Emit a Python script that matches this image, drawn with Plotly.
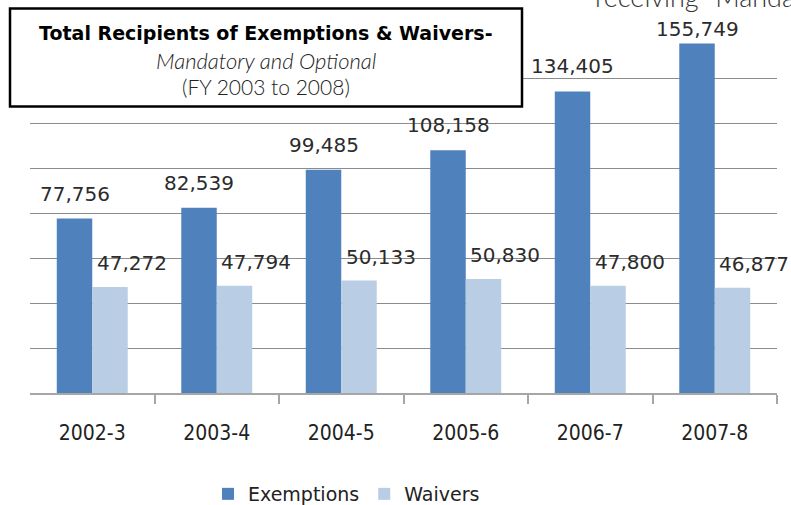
import plotly.graph_objects as go

categories = ["2002-3", "2003-4", "2004-5", "2005-6", "2006-7", "2007-8"]
exemptions = [77756, 82539, 99485, 108158, 134405, 155749]
waivers = [47272, 47794, 50133, 50830, 47800, 46877]
series_names = ["Exemptions", "Waivers"]
title_lines = ["Total Recipients of Exemptions & Waivers-", "Mandatory and Optional", "(FY 2003 to 2008)"]
corner_text = 'receiving "Mandatory'

C_EX = "#4F81BD"
C_WA = "#B9CDE5"
YMAX = 160000
W, H = 791, 505
ML, MR, MT, MB = 30, 14, 34, 112
PW, PH = W - ML - MR, H - MT - MB
UPP = YMAX / PH  # data units per pixel

BARGAP = 0.43
bw = (1 - BARGAP) / 2
xs = list(range(len(categories)))

fig = go.Figure()
fig.add_bar(x=xs, y=exemptions, name=series_names[0], marker=dict(color=C_EX, line=dict(width=0)))
fig.add_bar(x=xs, y=waivers, name=series_names[1], marker=dict(color=C_WA, line=dict(width=0)))
# invisible trace to carry the category labels axis
fig.add_scatter(x=xs, y=[0] * len(xs), xaxis="x2", mode="markers",
                marker=dict(opacity=0), showlegend=False, hoverinfo="skip")

lab_font = dict(family="DejaVu Sans", size=20, color="#2b2b2b")
ann = []
for i, (e, w) in enumerate(zip(exemptions, waivers)):
    gap_e = min(18, (YMAX - e) / UPP - 2)
    ann.append(dict(x=i - bw / 2, y=e, xref="x", yref="y", text=f"{e:,}", showarrow=False,
                    yanchor="bottom", xanchor="center", yshift=gap_e - 6, font=lab_font, borderpad=0))
    ann.append(dict(x=i + bw / 2, y=w, xref="x", yref="y", text=f"{w:,}", showarrow=False,
                    yanchor="bottom", xanchor="center", xshift=22, yshift=17 - 6, font=lab_font, borderpad=0))

def px2x(px):
    return (px - ML) / PW

def py2y(py):
    return (H - MB - py) / PH

# title box texts
ann.append(dict(x=px2x(266), y=py2y(33), xref="paper", yref="paper", text="<b>" + title_lines[0] + "</b>",
                showarrow=False, xanchor="center", yanchor="middle",
                font=dict(family="DejaVu Sans", size=19, color="#000000")))
ann.append(dict(x=px2x(266), y=py2y(60), xref="paper", yref="paper", text="<i>" + title_lines[1] + "</i>",
                showarrow=False, xanchor="center", yanchor="middle",
                font=dict(family="Lato", size=22, color="#222222", weight=300)))
ann.append(dict(x=px2x(266), y=py2y(86), xref="paper", yref="paper", text=title_lines[2],
                showarrow=False, xanchor="center", yanchor="middle",
                font=dict(family="Lato", size=21, color="#222222", weight=300)))
ann.append(dict(x=px2x(594), y=py2y(14), xref="paper", yref="paper", text=corner_text,
                showarrow=False, xanchor="left", yanchor="bottom", borderpad=0,
                font=dict(family="Lato", size=27, color="#333333", weight=300)))

fig.update_layout(
    width=W, height=H,
    margin=dict(l=ML, r=MR, t=MT, b=MB, pad=0, autoexpand=False),
    paper_bgcolor="white", plot_bgcolor="white",
    barmode="group", bargap=BARGAP, bargroupgap=0,
    showlegend=True,
    legend=dict(orientation="h", x=px2x(208), y=py2y(494), xanchor="left", yanchor="middle",
                font=dict(family="DejaVu Sans", size=19, color="#222222"),
                itemwidth=30, traceorder="normal", bgcolor="rgba(0,0,0,0)"),
    xaxis=dict(range=[-0.5, 5.5], tickvals=[i + 0.5 for i in xs], showticklabels=False,
               ticks="outside", ticklen=9, tickcolor="#a6a6a6", tickwidth=1.5,
               showline=True, linecolor="#a6a6a6", linewidth=1.5, showgrid=False, zeroline=False,
               fixedrange=True),
    xaxis2=dict(overlaying="x", side="bottom", range=[-0.5, 5.5], tickvals=xs, ticktext=categories,
                ticks="", showline=False, showgrid=False, zeroline=False, ticklabelstandoff=25,
                tickfont=dict(family="Liberation Sans Narrow, DejaVu Sans Condensed", size=21, color="#222222")),
    yaxis=dict(range=[0, YMAX], dtick=20000, showticklabels=False, showgrid=True,
               gridcolor="#8c8c8c", gridwidth=1, zeroline=False, showline=False),
    shapes=[dict(type="rect", xref="paper", yref="paper", x0=px2x(10), x1=px2x(522),
                 y0=py2y(106.5), y1=py2y(8.5), line=dict(color="black", width=2.5),
                 fillcolor="white", layer="above")],
    annotations=ann,
)

fig.write_html("out.html", config={"displayModeBar": False},
               post_script="document.body.style.margin='0';document.body.style.overflow='hidden';")
